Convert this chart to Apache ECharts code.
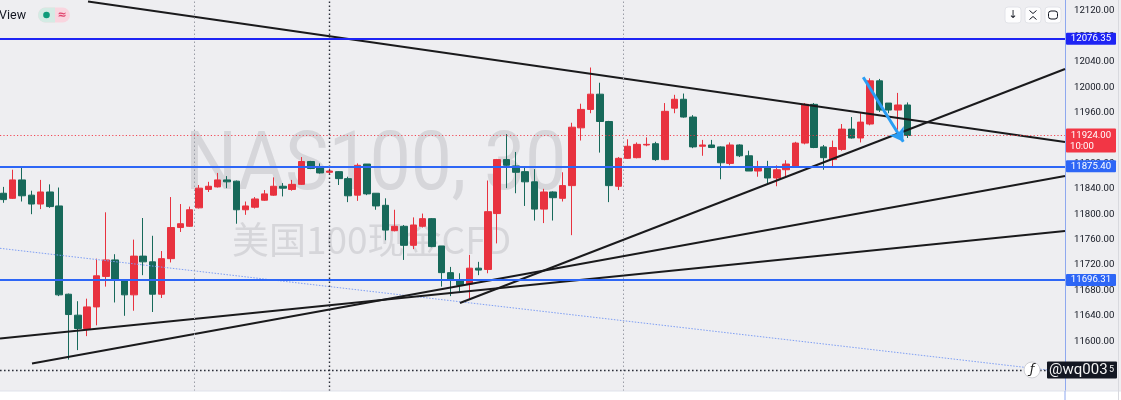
<!DOCTYPE html>
<html><head><meta charset="utf-8">
<script src="https://cdn.jsdelivr.net/npm/echarts@6/dist/echarts.min.js"></script>
<style>html,body{margin:0;padding:0;background:#fff;}#c{width:1121px;height:400px;}</style>
</head><body><div id="c"></div>
<script>
// ---- data (NAS100, 30 min) ----
const OPEN  = [11833,11825,11854,11830,11816,11835,11813,11674,11641,11620,11654,11702,11728,11695,11673,11734,11725,11674,11730,11779,11781,11810,11839,11843,11854,11852,11807,11811,11822,11830,11844,11839,11847,11883,11873,11866,11867,11856,11830,11879,11833,11814,11774,11781,11751,11781,11793,11750,11708,11696,11690,11715,11713,11801,11886,11876,11867,11851,11808,11835,11825,11845,11936,11965,11989,11946,11844,11888,11889,11909,11911,11886,11967,11981,11953,11907,11909,11906,11880,11909,11892,11868,11873,11857,11870,11876,11912,11973,11906,11886,11902,11934,11920,11942,12010,11975,11964,11972];
const CLOSE = [11823,11854,11829,11816,11835,11812,11673,11642,11620,11654,11703,11728,11698,11673,11734,11725,11674,11730,11779,11785,11807,11841,11844,11854,11851,11807,11813,11824,11832,11844,11841,11847,11883,11872,11865,11868,11856,11829,11877,11832,11813,11775,11781,11751,11783,11793,11749,11708,11696,11688,11715,11712,11804,11886,11877,11866,11851,11808,11835,11826,11845,11937,11965,11989,11946,11845,11888,11907,11910,11910,11886,11962,11981,11953,11906,11909,11905,11881,11909,11892,11868,11873,11857,11870,11879,11912,11973,11905,11889,11905,11934,11920,11945,12010,11964,11964,11972,11924];
const LOW   = [11818,11824,11820,11800,11808,11810,11671,11571,11586,11608,11625,11686,11661,11640,11648,11704,11646,11668,11724,11772,11780,11809,11835,11842,11841,11785,11799,11809,11821,11829,11828,11837,11846,11871,11864,11863,11846,11819,11821,11830,11807,11759,11773,11728,11745,11779,11748,11686,11671,11678,11667,11704,11707,11754,11841,11833,11813,11790,11786,11790,11820,11767,11916,11959,11897,11819,11838,11887,11888,11907,11884,11885,11959,11952,11904,11892,11904,11855,11877,11890,11868,11859,11849,11844,11859,11874,11910,11904,11870,11875,11900,11919,11913,11940,11961,11959,11933,11920];
const HIGH  = [11843,11870,11873,11837,11854,11847,11842,11675,11663,11667,11730,11803,11737,11696,11760,11794,11766,11742,11827,11816,11812,11846,11851,11865,11860,11853,11820,11827,11838,11858,11849,11854,11890,11884,11880,11872,11868,11859,11880,11879,11833,11825,11807,11783,11795,11801,11794,11750,11717,11707,11736,11725,11853,11887,11926,11898,11875,11871,11840,11836,11866,11944,11974,12031,12007,11947,11890,11918,11913,11921,11914,11975,11988,11990,11956,11917,11917,11907,11913,11910,11900,11884,11884,11877,11885,11914,11975,11975,11909,11916,11942,11953,11959,12014,12013,11975,11991,11976];
const Y_TICKS = [11560,11600,11640,11680,11720,11760,11800,11840,11880,11920,11960,12000,12040,12080,12120];
const LEVELS = [12076.35, 11875.40, 11696.31];
const LEVEL_LABELS = ['12076.35', '11875.40', '11696.31'];
const LAST_PRICE = 11924.00;
const LAST_LABEL = '11924.00';
const COUNTDOWN = '10:00';
const CROSS_X = 35;
const CROSS_PRICE = 11554.75;
const SESSION_BREAKS = [20.5, 66.5];
const TREND_LINES = [
  [[9.09, 12135.0], [113.92, 11913.7]],
  [[49.0, 11660.1], [113.92, 12028.6]],
  [[3.08, 11564.9], [113.92, 11860.1]],
  [[-0.354, 11604.2], [113.92, 11773.5]]
];
const DOTTED_TREND = [[-0.354, 11746.3], [113.92, 11551.5]];
const ARROW = [[92.27, 12015.6], [96.57, 11914.2]];
const X_MIN = -0.354, X_MAX = 113.92, Y_MIN = 11521.6, Y_MAX = 12137.3;
const TITLE = 'NAS100, 30';
const SUBTITLE = '美国100现金CFD';

// ---- chart ----
const UP = '#E8323F', DOWN = '#17695A', BG = '#EEEEF1';
const candles = OPEN.map((o, i) => [i, o, CLOSE[i], LOW[i], HIGH[i]]);
const series = [{
  type: 'candlestick', data: candles, encode: {x: 0, y: [1, 2, 3, 4]},
  barWidth: 7, z: 2,
  itemStyle: {color: UP, color0: DOWN, borderColor: UP, borderColor0: DOWN, borderWidth: 1},
  markLine: {
    silent: true, symbol: 'none', label: {show: false}, animation: false,
    data: [
      ...SESSION_BREAKS.map(v => ({xAxis: v, lineStyle: {color: '#9a9da6', type: [1.5, 2.5], width: 1}})),
      {xAxis: CROSS_X, lineStyle: {color: '#2a2e39', type: [1.6, 2.4], width: 1.4}},
      {yAxis: CROSS_PRICE, lineStyle: {color: '#2a2e39', type: [1.6, 2.4], width: 1.4}}
    ]
  }
}];
TREND_LINES.forEach(seg => series.push({
  type: 'line', data: seg, symbol: 'none', z: 4, silent: true, animation: false,
  lineStyle: {color: '#1a1a1c', width: 2}
}));
series.push({
  type: 'line', data: DOTTED_TREND, symbol: 'none', z: 3, silent: true, animation: false,
  lineStyle: {color: '#7e9ef3', width: 1, type: [1.5, 1.5]}
});
series.push({
  type: 'line', data: [], z: 5, silent: true,
  markLine: {
    silent: true, symbol: 'none', label: {show: false}, animation: false,
    data: [
      {yAxis: LAST_PRICE, lineStyle: {color: '#F23645', type: [1.2, 2.2], width: 1, opacity: 0.9}},
      {yAxis: LEVELS[0], lineStyle: {color: '#1E24F4', width: 2, type: 'solid'}},
      {yAxis: LEVELS[1], lineStyle: {color: '#2D66F6', width: 2, type: 'solid'}},
      {yAxis: LEVELS[2], lineStyle: {color: '#2D66F6', width: 2, type: 'solid'}},
      [{coord: ARROW[0], symbol: 'none'}, {coord: ARROW[1], symbol: 'arrow', symbolSize: 13,
        lineStyle: {color: '#2A9DF4', width: 3, type: 'solid'}}]
    ]
  }
});

const option = {
  animation: false,
  backgroundColor: BG,
  grid: {left: 0, right: 56, top: 0, bottom: 9, containLabel: false},
  xAxis: {type: 'value', min: X_MIN, max: X_MAX, show: false, axisLine: {onZero: false}},
  yAxis: {
    type: 'value', position: 'right', min: Y_MIN, max: Y_MAX,
    axisLine: {show: true, onZero: false, lineStyle: {color: '#8ea8ef', width: 1}},
    axisTick: {show: false}, splitLine: {show: false},
    axisLabel: {customValues: Y_TICKS, formatter: v => v.toFixed(2), color: '#131722',
      fontSize: 9.6, fontFamily: 'Roboto', margin: 9}
  },
  series: series
};
const chart = echarts.init(document.getElementById('c'));
chart.setOption(option);

const yPix = v => chart.convertToPixel({yAxisIndex: 0}, v);
const FONT = '9.6px Roboto';
const g = [];
// watermarks
g.push({type: 'text', z: -10, x: 185, y: 168, scaleX: 0.89, style: {text: TITLE, x: 0, y: 0, verticalAlign: 'middle', font: '82px Roboto', fill: '#D6D6DA'}});
g.push({type: 'text', z: -10, style: {text: SUBTITLE, x: 232, y: 240, verticalAlign: 'middle', font: '37px "Noto Sans CJK SC"', fill: '#D6D6DA'}});
// level labels
const levelBg = ['#1E24F4', '#2D66F6', '#2D66F6'];
LEVELS.forEach((v, i) => {
  const y = yPix(v);
  g.push({type: 'rect', z: 100, shape: {x: 1066, y: y - 6, width: 50, height: 12, r: 1}, style: {fill: levelBg[i]}});
  g.push({type: 'text', z: 101, style: {text: LEVEL_LABELS[i], x: 1091, y: y, align: 'center', verticalAlign: 'middle', font: FONT, fill: '#fff'}});
});
// last price label
{
  const y = yPix(LAST_PRICE);
  g.push({type: 'rect', z: 100, shape: {x: 1066, y: y - 7, width: 50, height: 24, r: 1}, style: {fill: '#F23645'}});
  g.push({type: 'text', z: 101, style: {text: LAST_LABEL, x: 1091, y: y, align: 'center', verticalAlign: 'middle', font: FONT, fill: '#fff'}});
  g.push({type: 'text', z: 101, style: {text: COUNTDOWN, x: 1070, y: y + 11, align: 'left', verticalAlign: 'middle', font: FONT, fill: '#fff'}});
}
// crosshair label with watermark
{
  const y = yPix(CROSS_PRICE);
  g.push({type: 'rect', z: 100, shape: {x: 1047, y: y - 8.5, width: 70, height: 17, r: 1}, style: {fill: '#131722'}});
  g.push({type: 'text', z: 101, style: {text: '@wq003', x: 1049, y: y, verticalAlign: 'middle', font: '15px Roboto', fill: '#f4f4f4'}});
  g.push({type: 'text', z: 101, style: {text: '5', x: 1109, y: y, verticalAlign: 'middle', font: '9px Roboto', fill: '#f4f4f4'}});
  g.push({type: 'circle', z: 100, shape: {cx: 1032, cy: y, r: 8}, style: {fill: '#ffffff', stroke: '#cfcfd4'}});
  g.push({type: 'text', z: 101, style: {text: 'ƒ', x: 1032, y: y, align: 'center', verticalAlign: 'middle', font: 'italic 13px "DejaVu Sans"', fill: '#222'}});
}
// top-left legend fragment
g.push({type: 'text', z: 100, style: {text: 'View', x: -1, y: 16, verticalAlign: 'middle', font: '12.5px Roboto', fill: '#131722'}});
g.push({type: 'rect', z: 100, shape: {x: 38, y: 7.5, width: 32, height: 15, r: 7.5}, style: {fill: '#F9D5DF'}});
g.push({type: 'rect', z: 100, shape: {x: 38, y: 7.5, width: 17, height: 15, r: [7.5, 0, 0, 7.5]}, style: {fill: '#D3EBE4'}});
g.push({type: 'circle', z: 101, shape: {cx: 46.5, cy: 15, r: 3.3}, style: {fill: '#0E9C7A'}});
g.push({type: 'text', z: 101, style: {text: '≈', x: 62, y: 15, align: 'center', verticalAlign: 'middle', font: 'bold 11px "DejaVu Sans"', fill: '#E0456E'}});
// top-right buttons
[1005, 1025, 1045].forEach(x => {
  g.push({type: 'rect', z: 100, shape: {x: x, y: 7, width: 16, height: 16, r: 3}, style: {fill: '#FDFDFE', stroke: '#E2E3E8', lineWidth: 1}});
});
g.push({type: 'text', z: 101, style: {text: '↓', x: 1013, y: 15, align: 'center', verticalAlign: 'middle', font: '11px "DejaVu Sans"', fill: '#131722'}});
g.push({type: 'polyline', z: 101, shape: {points: [[1029.5, 10.5], [1033, 13.5], [1036.5, 10.5]]}, style: {stroke: '#131722', lineWidth: 1, fill: null}});
g.push({type: 'polyline', z: 101, shape: {points: [[1029.5, 19.5], [1033, 16.5], [1036.5, 19.5]]}, style: {stroke: '#131722', lineWidth: 1, fill: null}});
g.push({type: 'rect', z: 101, shape: {x: 1048.5, y: 11, width: 9, height: 8, r: 2.5}, style: {fill: null, stroke: '#131722', lineWidth: 1}});
// bottom strip and right border
g.push({type: 'rect', z: 90, shape: {x: 0, y: 391, width: 1121, height: 9}, style: {fill: '#FFFFFF'}});
g.push({type: 'line', z: 91, shape: {x1: 0, y1: 391, x2: 1121, y2: 391}, style: {stroke: '#E0E3EB', lineWidth: 1}});
g.push({type: 'line', z: 91, shape: {x1: 1065, y1: 391, x2: 1065, y2: 400}, style: {stroke: '#8ea8ef', lineWidth: 1}});
g.push({type: 'line', z: 91, shape: {x1: 1118.5, y1: 0, x2: 1118.5, y2: 400}, style: {stroke: '#D8D9DE', lineWidth: 1}});
chart.setOption({graphic: {elements: g}});
</script></body></html>
